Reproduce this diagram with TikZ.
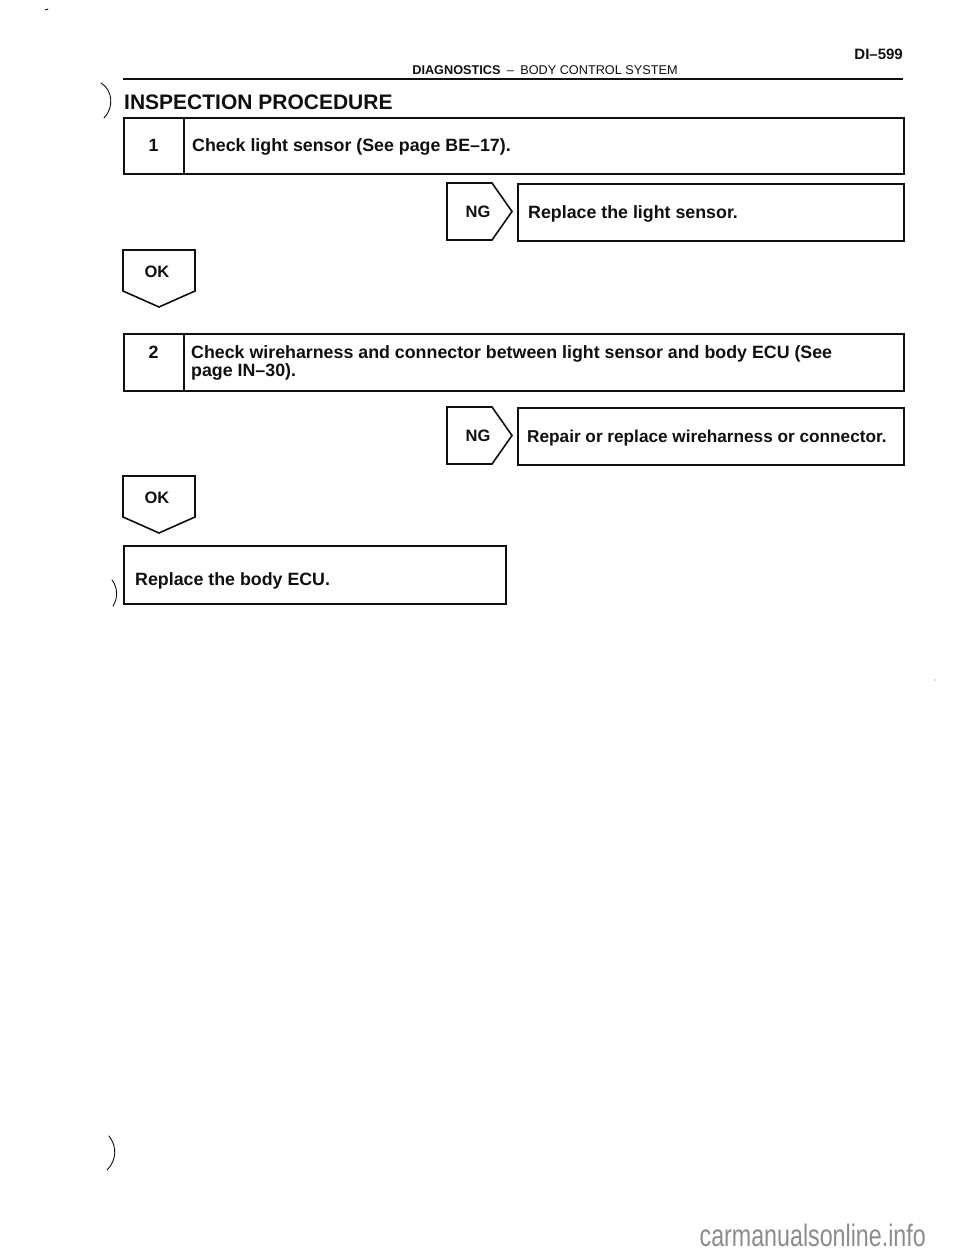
\documentclass[tikz,border=0pt]{standalone}
\usepackage{fontspec}
\setmainfont{Liberation Sans}
\newfontfamily\narrowfont[FakeStretch=0.75]{Liberation Sans}
\usetikzlibrary{positioning,calc}
\definecolor{ink}{RGB}{15,15,15}
\definecolor{wmark}{RGB}{140,140,140}
\tikzset{
  stepbox/.style={draw=ink, line width=1.6pt, inner sep=0pt, anchor=north west},
  tag/.style={draw=ink, line width=1.6pt, line join=miter},
  rule/.style={draw=ink, line width=1.6pt},
  steptxt/.style={font=\fontsize{17.8}{16}\selectfont\bfseries, text=ink, inner sep=0pt, align=left},
  numtxt/.style={font=\fontsize{17.8}{16}\selectfont\bfseries, text=ink, inner sep=0pt},
  tagtxt/.style={font=\fontsize{16.5}{16}\selectfont\bfseries, text=ink, inner sep=0pt},
  scanmark/.style={draw=ink, line width=0.9pt, line cap=round}
}

\begin{document}
\begin{tikzpicture}[x=1pt,y=-1pt]
\useasboundingbox (0,0) rectangle (960,1250);

% page head
\node[font=\fontsize{15}{15}\selectfont\bfseries, text=ink, inner sep=0pt, anchor=base east] (pageno) at (903,59) {DI--599};
\node[font=\fontsize{12.7}{13}\selectfont, text=ink, inner sep=0pt, anchor=base] (chapter) at (545,74)
  {\textbf{DIAGNOSTICS}\enspace--\enspace BODY CONTROL SYSTEM};
\coordinate (ruleL) at (123,79);
\coordinate (ruleR) at (903,79);
\draw[rule] (ruleL) -- (ruleR);
\node[font=\fontsize{21}{22}\selectfont\bfseries, text=ink, inner sep=0pt, anchor=base west] (title) at (124,109) {INSPECTION PROCEDURE};

% step 1
\node[stepbox, minimum width=780pt, minimum height=56pt] (box1) at (123,117) {};
\draw[rule] ($(box1.north west)+(61,0)$) -- ($(box1.south west)+(61,0)$);
\node[numtxt, anchor=base] (num1) at ($(box1.west)+(30.5,6)$) {1};
\node[steptxt, anchor=base west] (chk1) at ($(box1.west)+(69,6)$) {Check light sensor (See page BE--17).};

% NG 1
\coordinate (ng1) at (447,183);
\draw[tag] (ng1) -- ++(45,0) -- ++(20,28.5) -- ++(-20,28.5) -- ++(-45,0) -- cycle;
\node[tagtxt] (ng1txt) at ($(ng1)+(31,28.5)$) {NG};
\node[stepbox, minimum width=386pt, minimum height=57pt] (fix1) at (517,183) {};
\node[steptxt, anchor=base west] (fix1txt) at ($(fix1.west)+(11,6)$) {Replace the light sensor.};

% OK 1
\coordinate (ok1) at (123,250);
\draw[tag] (ok1) -- ++(72,0) -- ++(0,41) -- ++(-36,16) -- ++(-36,-16) -- cycle;
\node[tagtxt] (ok1txt) at ($(ok1)+(34,22)$) {OK};

% step 2
\node[stepbox, minimum width=780pt, minimum height=57pt] (box2) at (123,333) {};
\draw[rule] ($(box2.north west)+(61,0)$) -- ($(box2.south west)+(61,0)$);
\node[numtxt, anchor=base] (num2) at (153.5,358) {2};
\node[steptxt, anchor=north west] (chk2) at (191,345.5)
  {Check wireharness and connector between light sensor and body ECU (See\\page IN--30).};

% NG 2
\coordinate (ng2) at (447,407);
\draw[tag] (ng2) -- ++(45,0) -- ++(20,28.5) -- ++(-20,28.5) -- ++(-45,0) -- cycle;
\node[tagtxt] (ng2txt) at ($(ng2)+(31,29)$) {NG};
\node[stepbox, minimum width=386pt, minimum height=57pt] (fix2) at (517,407) {};
\node[steptxt, font=\fontsize{17.2}{16}\selectfont\bfseries, anchor=base west] (fix2txt) at ($(fix2.west)+(10,6)$) {Repair or replace wireharness or connector.};

% OK 2
\coordinate (ok2) at (123,476);
\draw[tag] (ok2) -- ++(72,0) -- ++(0,41) -- ++(-36,16) -- ++(-36,-16) -- cycle;
\node[tagtxt] (ok2txt) at ($(ok2)+(34,22)$) {OK};

% last step
\node[stepbox, minimum width=382pt, minimum height=58pt] (last) at (123,545) {};
\node[steptxt, anchor=base west] (lasttxt) at ($(last.west)+(12,11)$) {Replace the body ECU.};

% scan marks at the edges
\draw[scanmark] (101,83) .. controls (113,90) and (114,108) .. (104,118);
\draw[scanmark] (112,580) .. controls (118,588) and (118,598) .. (113,606);
\draw[scanmark] (109,1136) .. controls (117,1146) and (117,1160) .. (107,1170);
\draw[scanmark] (45,10) -- (48,9);
\fill[ink!60] (935,680) circle (0.7pt);

% watermark
\node[font=\narrowfont\fontsize{31}{32}\selectfont, text=wmark, inner sep=0pt, anchor=base east] (wm) at (926,1246) {carmanualsonline.info};
\end{tikzpicture}
\end{document}
